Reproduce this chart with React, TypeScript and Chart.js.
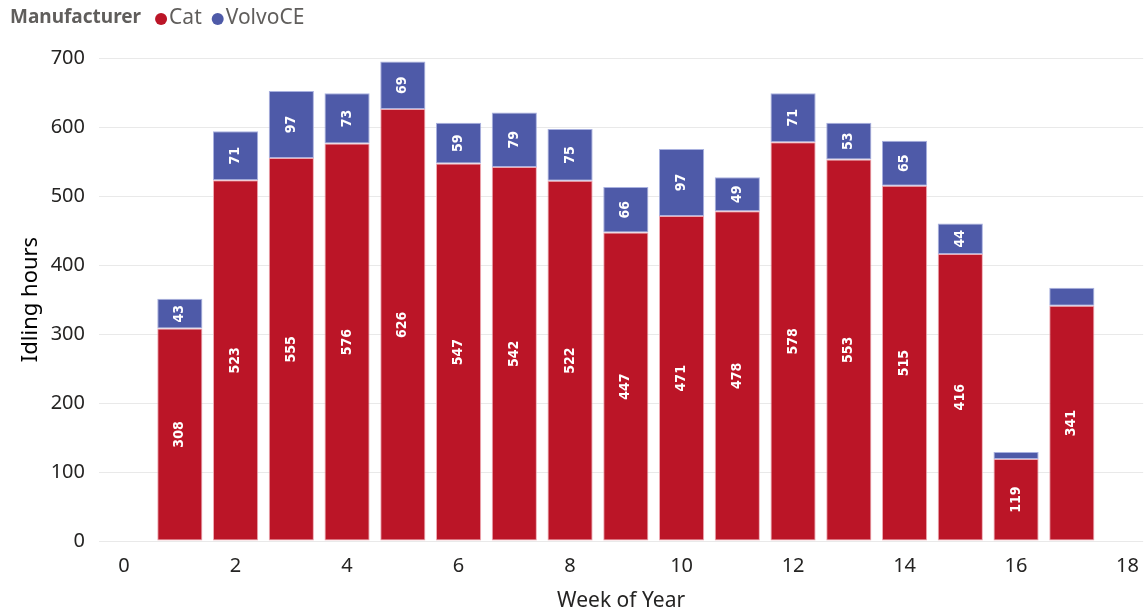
import React, { useEffect, useRef } from "react";
import { Chart, registerables } from "chart.js";

Chart.register(...registerables);

// Weekly idling hours per manufacturer
const weeks = [1, 2, 3, 4, 5, 6, 7, 8, 9, 10, 11, 12, 13, 14, 15, 16, 17];
const catHours = [308, 523, 555, 576, 626, 547, 542, 522, 447, 471, 478, 578, 553, 515, 416, 119, 341];
const volvoHours = [43, 71, 97, 73, 69, 59, 79, 75, 66, 97, 49, 71, 53, 65, 44, 10, 26];
const weekTicks = [0, 2, 4, 6, 8, 10, 12, 14, 16, 18];
const seriesNames = ["Cat", "VolvoCE"];
const legendTitle = "Manufacturer";

const RED = "#BB1527";
const BLUE = "#4E5AA8";
const UI_FONT = "'Segoe UI', 'Noto Sans', 'Open Sans', sans-serif";
const LABEL_FONT = "'DejaVu Sans Condensed', 'DejaVu Sans', sans-serif";

// Rotated value labels inside each stacked segment
const segmentLabels = {
  id: "segmentLabels",
  afterDatasetsDraw(chart: any) {
    const ctx = chart.ctx;
    ctx.save();
    ctx.fillStyle = "#ffffff";
    ctx.font = `bold 14px ${LABEL_FONT}`;
    ctx.textAlign = "center";
    ctx.textBaseline = "middle";
    chart.data.datasets.forEach((ds: any, di: number) => {
      const meta = chart.getDatasetMeta(di);
      meta.data.forEach((bar: any, i: number) => {
        const { x, y, base } = bar.getProps(["x", "y", "base"], true);
        const h = Math.abs(base - y);
        if (h < 24) return;
        const v = ds.data[i].y;
        ctx.save();
        ctx.translate(x, (y + base) / 2);
        ctx.rotate(-Math.PI / 2);
        ctx.fillText(String(v), 0, 0);
        ctx.restore();
      });
    });
    ctx.restore();
  },
};

// Inline legend: bold title followed by dot markers
const inlineLegend = {
  id: "inlineLegend",
  afterDraw(chart: any) {
    const ctx = chart.ctx;
    ctx.save();
    ctx.textBaseline = "middle";
    ctx.textAlign = "left";
    const cy = 18;
    let x = 10;
    ctx.fillStyle = "#605E5C";
    ctx.font = `bold 19px ${UI_FONT}`;
    ctx.fillText(legendTitle, x, cy);
    x += ctx.measureText(legendTitle).width + 14;
    ctx.font = `21px ${UI_FONT}`;
    chart.data.datasets.forEach((ds: any) => {
      ctx.fillStyle = ds.backgroundColor;
      ctx.beginPath();
      ctx.arc(x + 6, cy + 1, 6, 0, Math.PI * 2);
      ctx.fill();
      x += 14;
      ctx.fillStyle = "#605E5C";
      ctx.fillText(ds.label, x, cy);
      x += ctx.measureText(ds.label).width + 10;
    });
    ctx.restore();
  },
};

export default function App() {
  const canvasRef = useRef<HTMLCanvasElement | null>(null);

  useEffect(() => {
    document.body.style.margin = "0";
    const canvas = canvasRef.current;
    if (!canvas) return;
    const chart = new Chart(canvas, {
      type: "bar",
      data: {
        datasets: [
          {
            label: seriesNames[0],
            data: weeks.map((w, i) => ({ x: w, y: catHours[i] })),
            backgroundColor: RED,
            borderColor: "rgba(236,160,170,0.9)",
            borderWidth: 1,
            borderSkipped: false,
            categoryPercentage: 1,
            barPercentage: 0.81,
          },
          {
            label: seriesNames[1],
            data: weeks.map((w, i) => ({ x: w, y: volvoHours[i] })),
            backgroundColor: BLUE,
            borderColor: "rgba(160,168,220,0.9)",
            borderWidth: 1,
            borderSkipped: false,
            categoryPercentage: 1,
            barPercentage: 0.81,
          },
        ],
      },
      options: {
        animation: false,
        responsive: false,
        maintainAspectRatio: false,
        layout: { padding: { top: 58, right: 0, left: 0, bottom: 0 } },
        plugins: {
          legend: { display: false },
          tooltip: { enabled: false },
        },
        scales: {
          x: {
            type: "linear",
            stacked: true,
            offset: false,
            min: -0.45,
            max: 18.28,
            grid: { display: false },
            border: { display: false },
            afterBuildTicks: (scale: any) => {
              scale.ticks = weekTicks.map((v) => ({ value: v }));
            },
            afterFit: (scale: any) => {
              scale.height = 73;
            },
            ticks: {
              color: "#252423",
              font: { family: UI_FONT, size: 20 },
              padding: 5,
              maxRotation: 0,
              autoSkip: false,
            },
            title: {
              display: true,
              text: "Week of Year",
              color: "#252423",
              font: { family: UI_FONT, size: 21 },
              padding: { top: 2, bottom: 0 },
            },
          },
          y: {
            stacked: true,
            min: 0,
            max: 700,
            ticks: {
              stepSize: 100,
              color: "#252423",
              font: { family: UI_FONT, size: 20 },
              padding: 14,
            },
            grid: { color: "#E9E9E9", lineWidth: 1, drawTicks: false },
            border: { display: false },
            afterFit: (scale: any) => {
              scale.width = 99;
            },
            title: {
              display: true,
              text: "Idling hours",
              color: "#000000",
              font: { family: UI_FONT, size: 22 },
              padding: { top: 18, bottom: 0 },
            },
          },
        },
      },
      plugins: [segmentLabels, inlineLegend],
    });
    return () => chart.destroy();
  }, []);

  return (
    <div style={{ width: 1144, height: 614, background: "#ffffff" }}>
      <canvas ref={canvasRef} width={1144} height={614} style={{ display: "block" }} />
    </div>
  );
}
